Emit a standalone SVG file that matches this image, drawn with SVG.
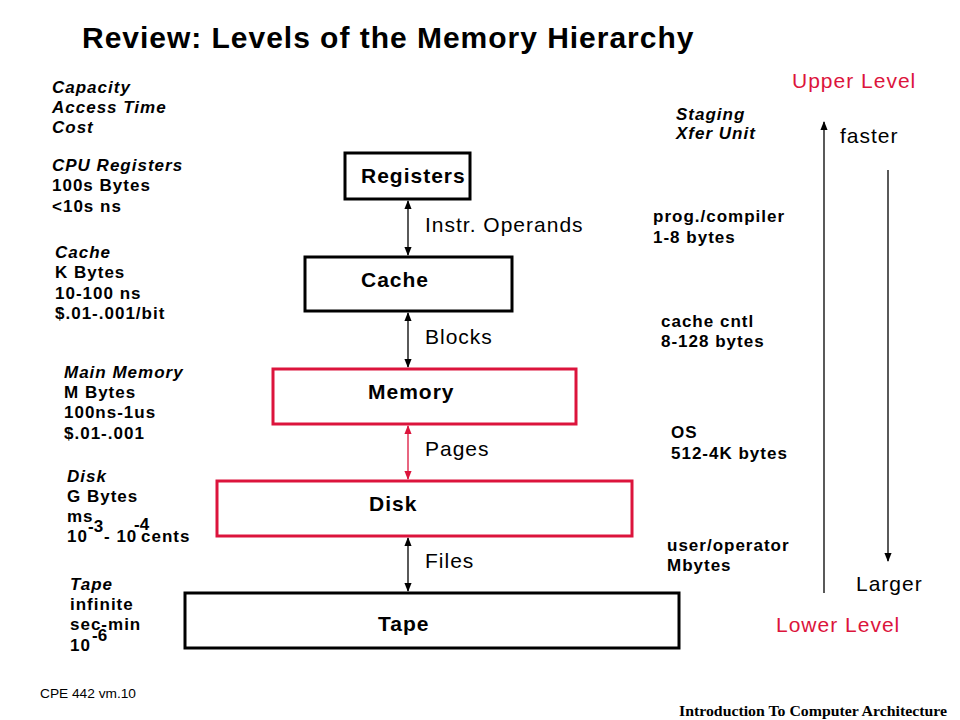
<svg xmlns="http://www.w3.org/2000/svg" width="960" height="720" viewBox="0 0 960 720">
<style>
.t{font-family:"Liberation Sans",Arial,sans-serif;font-weight:bold;font-size:17px;letter-spacing:1px;fill:#000}
.i{font-style:italic}
.sup{font-family:"Liberation Sans",Arial,sans-serif;font-weight:bold;font-size:17px;fill:#000}
.lbl{font-family:"Liberation Sans",Arial,sans-serif;font-size:21px;letter-spacing:1px;fill:#000}
.red{fill:#DC143C}
.nl{font-family:"Liberation Sans",Arial,sans-serif;font-weight:bold;font-size:21px;letter-spacing:1px;fill:#000}
.box{fill:#fff;stroke:#000;stroke-width:3}
.rbox{fill:#fff;stroke:#DC143C;stroke-width:3}
.ln{stroke:#000;stroke-width:1.3;fill:none}
.rln{stroke:#DC143C;stroke-width:1.3;fill:none}
</style>
<defs>
<marker id="ah" viewBox="0 0 10 10" refX="9" refY="5" markerWidth="9" markerHeight="9" markerUnits="userSpaceOnUse" orient="auto-start-reverse"><path d="M0,1 L10,5 L0,9 z" fill="#000"/></marker>
<marker id="rah" viewBox="0 0 10 10" refX="9" refY="5" markerWidth="9" markerHeight="9" markerUnits="userSpaceOnUse" orient="auto-start-reverse"><path d="M0,1 L10,5 L0,9 z" fill="#DC143C"/></marker>
</defs>
<rect width="960" height="720" fill="#fff"/>
<text x="82" y="48" style="font-family:'Liberation Sans',Arial,sans-serif;font-weight:bold;font-size:30px;letter-spacing:0.6px" textLength="612">Review: Levels of the Memory Hierarchy</text>

<g id="left-labels">
<text class="t i" x="52" y="93">Capacity</text>
<text class="t i" x="52" y="113">Access Time</text>
<text class="t i" x="52" y="133">Cost</text>
<text class="t i" x="52" y="171">CPU Registers</text>
<text class="t" x="52" y="191">100s Bytes</text>
<text class="t" x="52" y="212">&lt;10s ns</text>
<text class="t i" x="55" y="258">Cache</text>
<text class="t" x="55" y="278">K Bytes</text>
<text class="t" x="55" y="299">10-100 ns</text>
<text class="t" x="55" y="319">$.01-.001/bit</text>
<text class="t i" x="64" y="378">Main Memory</text>
<text class="t" x="64" y="398">M Bytes</text>
<text class="t" x="64" y="418">100ns-1us</text>
<text class="t" x="64" y="439">$.01-.001</text>
<text class="t i" x="67" y="482">Disk</text>
<text class="t" x="67" y="502">G Bytes</text>
<text class="t" x="67" y="522">ms</text>
<text class="t" x="67" y="542">10</text>
<text class="sup" x="88" y="532">-3</text>
<text class="t" x="104" y="542">- 10</text>
<text class="sup" x="134" y="530">-4</text>
<text class="t" x="141" y="542">cents</text>
<text class="t i" x="70" y="590">Tape</text>
<text class="t" x="70" y="610">infinite</text>
<text class="t" x="70" y="630">sec-min</text>
<text class="t" x="70" y="651">10</text>
<text class="sup" x="92" y="641">-6</text>
</g>

<g id="connectors">
<line class="ln" x1="408" y1="201" x2="408" y2="255" marker-start="url(#ah)" marker-end="url(#ah)"/>
<line class="ln" x1="408" y1="313" x2="408" y2="367" marker-start="url(#ah)" marker-end="url(#ah)"/>
<line class="rln" x1="408" y1="426" x2="408" y2="479" marker-start="url(#rah)" marker-end="url(#rah)"/>
<line class="ln" x1="408" y1="538" x2="408" y2="591" marker-start="url(#ah)" marker-end="url(#ah)"/>
<line class="ln" x1="824" y1="593" x2="824" y2="122" marker-end="url(#ah)"/>
<line class="ln" x1="888" y1="170" x2="888" y2="561" marker-end="url(#ah)"/>
<text class="lbl" x="425" y="232">Instr. Operands</text>
<text class="lbl" x="425" y="344">Blocks</text>
<text class="lbl" x="425" y="456">Pages</text>
<text class="lbl" x="425" y="568">Files</text>
</g>

<g id="registers"><rect class="box" x="345" y="153" width="125" height="46"/><text class="nl" x="361" y="183">Registers</text></g>
<g id="cache"><rect class="box" x="305" y="257" width="207" height="54"/><text class="nl" x="361" y="287">Cache</text></g>
<g id="memory"><rect class="rbox" x="273" y="369" width="303" height="55"/><text class="nl" x="368" y="399">Memory</text></g>
<g id="disk"><rect class="rbox" x="217" y="481" width="415" height="55"/><text class="nl" x="369" y="511">Disk</text></g>
<g id="tape"><rect class="box" x="185" y="593" width="494" height="55"/><text class="nl" x="378" y="631">Tape</text></g>

<g id="right-labels">
<text class="t i" x="676" y="120">Staging</text>
<text class="t i" x="676" y="139">Xfer Unit</text>
<text class="t" x="653" y="222">prog./compiler</text>
<text class="t" x="653" y="243">1-8 bytes</text>
<text class="t" x="661" y="327">cache cntl</text>
<text class="t" x="661" y="347">8-128 bytes</text>
<text class="t" x="671" y="438">OS</text>
<text class="t" x="671" y="459">512-4K bytes</text>
<text class="t" x="667" y="551">user/operator</text>
<text class="t" x="667" y="571">Mbytes</text>
<text class="lbl red" x="792" y="88">Upper Level</text>
<text class="lbl" x="840" y="143">faster</text>
<text class="lbl" x="856" y="591">Larger</text>
<text class="lbl red" x="776" y="632">Lower Level</text>
</g>

<text x="40" y="698" style="font-family:'Liberation Sans',Arial,sans-serif;font-size:12px" textLength="96" lengthAdjust="spacingAndGlyphs">CPE 442  vm.10</text>
<text x="679" y="716" style="font-family:'Liberation Serif','Times New Roman',serif;font-weight:bold;font-size:14px" textLength="268" lengthAdjust="spacingAndGlyphs">Introduction To Computer Architecture</text>
</svg>
